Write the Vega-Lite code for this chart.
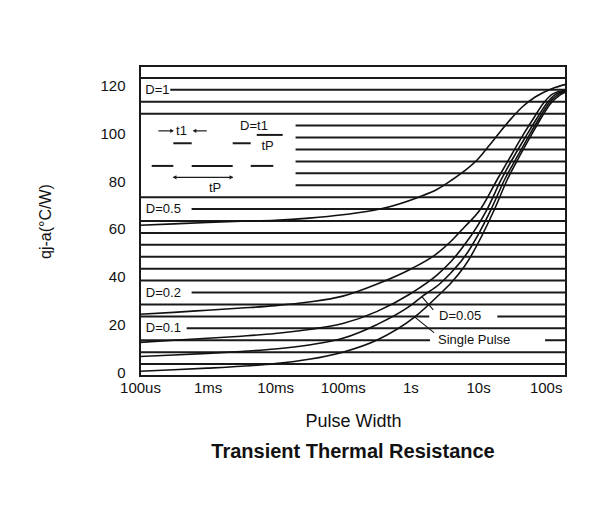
{
  "$schema": "https://vega.github.io/schema/vega-lite/v6.json",
  "width": 426,
  "height": 310,
  "padding": {"left": 37, "top": 66, "right": 5, "bottom": 5},
  "background": "white",
  "title": {"text": "Transient Thermal Resistance", "orient": "bottom", "anchor": "middle", "fontSize": 20, "fontWeight": "bold", "offset": 12, "color": "#111"},
  "config": {"font": "Liberation Sans", "view": {"stroke": "#1a1a1a", "strokeWidth": 2}},
  "encoding": {
    "x": {
      "field": "x", "type": "quantitative",
      "scale": {"type": "log", "domain": [0.0001, 200], "nice": false},
      "axis": {
        "title": "Pulse Width",
        "values": [0.0001, 0.001, 0.01, 0.1, 1, 10, 100],
        "labelExpr": "datum.value < 0.0005 ? '100us' : datum.value < 0.005 ? '1ms' : datum.value < 0.05 ? '10ms' : datum.value < 0.5 ? '100ms' : datum.value < 5 ? '1s' : datum.value < 50 ? '10s' : '100s'",
        "labelFontSize": 15, "labelColor": "#111", "labelFlush": false, "labelOverlap": false, "labelBound": false,
        "labelPadding": 4, "ticks": false, "tickSize": 0, "domain": false, "grid": false,
        "titleFontSize": 18, "titleFontWeight": "normal", "titleColor": "#111", "titlePadding": 17
      }
    },
    "y": {
      "field": "y", "type": "quantitative",
      "scale": {"domain": [0, 130], "nice": false, "zero": false},
      "axis": {
        "title": "qj-a(°C/W)",
        "values": [0, 20, 40, 60, 80, 100, 120],
        "labelFontSize": 15, "labelColor": "#111", "labelPadding": 15, "labelOffset": -4,
        "ticks": false, "tickSize": 0, "domain": false, "grid": false,
        "titleFontSize": 16, "titleFontWeight": "normal", "titleColor": "#111", "titlePadding": 46
      }
    }
  },
  "layer": [
    {
      "data": {"values": [
        {"x": 0.0001, "x2": 200, "y": 5},
        {"x": 0.0001, "x2": 200, "y": 10},
        {"x": 0.0001, "x2": 1.95, "y": 15},
        {"x": 98, "x2": 200, "y": 15},
        {"x": 0.00049, "x2": 200, "y": 20},
        {"x": 0.0001, "x2": 1.9, "y": 25},
        {"x": 19.3, "x2": 200, "y": 25},
        {"x": 0.0001, "x2": 200, "y": 30},
        {"x": 0.00058, "x2": 200, "y": 35},
        {"x": 0.0001, "x2": 200, "y": 40},
        {"x": 0.0001, "x2": 200, "y": 45},
        {"x": 0.0001, "x2": 200, "y": 50},
        {"x": 0.0001, "x2": 200, "y": 55},
        {"x": 0.0001, "x2": 200, "y": 60},
        {"x": 0.0001, "x2": 200, "y": 65},
        {"x": 0.00058, "x2": 200, "y": 70},
        {"x": 0.0001, "x2": 200, "y": 75},
        {"x": 0.02, "x2": 200, "y": 80},
        {"x": 0.02, "x2": 200, "y": 85},
        {"x": 0.02, "x2": 200, "y": 90},
        {"x": 0.02, "x2": 200, "y": 95},
        {"x": 0.02, "x2": 200, "y": 100},
        {"x": 0.02, "x2": 200, "y": 105},
        {"x": 0.0001, "x2": 200, "y": 110},
        {"x": 0.0001, "x2": 200, "y": 115},
        {"x": 0.00028, "x2": 200, "y": 120},
        {"x": 0.0001, "x2": 200, "y": 125}
      ]},
      "mark": {"type": "rule", "stroke": "#1a1a1a", "strokeWidth": 2},
      "encoding": {"x2": {"field": "x2"}}
    },
    {
      "data": {"values": [
        {"x": 0.000311, "x2": 0.000582, "y": 97.6},
        {"x": 0.00235, "x2": 0.00434, "y": 97.6},
        {"x": 0.000149, "x2": 0.000311, "y": 88.1},
        {"x": 0.000582, "x2": 0.00235, "y": 88.1},
        {"x": 0.00434, "x2": 0.00937, "y": 88.1},
        {"x": 0.00533, "x2": 0.0129, "y": 101.1}
      ]},
      "mark": {"type": "rule", "stroke": "#1a1a1a", "strokeWidth": 2},
      "encoding": {"x2": {"field": "x2"}}
    },
    {
      "data": {"values": [
        {"x": 0.000311, "x2": 0.00235, "y": 83.3},
        {"x": 0.000187, "x2": 0.000305, "y": 102.8},
        {"x": 0.000625, "x2": 0.00097, "y": 102.8}
      ]},
      "mark": {"type": "rule", "stroke": "#1a1a1a", "strokeWidth": 1.2},
      "encoding": {"x2": {"field": "x2"}}
    },
    {
      "data": {"values": [
        {"x": 0.000325, "y": 83.3, "dir": "L"},
        {"x": 0.00225, "y": 83.3, "dir": "R"},
        {"x": 0.000298, "y": 102.8, "dir": "R"},
        {"x": 0.00064, "y": 102.8, "dir": "L"}
      ]},
      "mark": {"type": "point", "filled": true, "color": "#1a1a1a", "size": 18, "opacity": 1},
      "encoding": {"shape": {"field": "dir", "type": "nominal", "scale": {"domain": ["L", "R"], "range": ["triangle-left", "triangle-right"]}, "legend": null}}
    },
    {
      "data": {"values": [
        {"x": 1.47, "y": 33.3, "x2": 2.18, "y2": 27.7},
        {"x": 1.15, "y": 24.8, "x2": 2.23, "y2": 18.2}
      ]},
      "mark": {"type": "rule", "stroke": "#1a1a1a", "strokeWidth": 1.2},
      "encoding": {"x2": {"field": "x2"}, "y2": {"field": "y2"}}
    },
    {
      "data": {"values": [
        {"series": "D=0.5", "x": 0.0001, "y": 63.2},
        {"series": "D=0.5", "x": 0.000316, "y": 63.8},
        {"series": "D=0.5", "x": 0.001, "y": 64.4},
        {"series": "D=0.5", "x": 0.00316, "y": 64.9},
        {"series": "D=0.5", "x": 0.01, "y": 65.3},
        {"series": "D=0.5", "x": 0.0316, "y": 66.2},
        {"series": "D=0.5", "x": 0.1, "y": 67.6},
        {"series": "D=0.5", "x": 0.355, "y": 70},
        {"series": "D=0.5", "x": 1.318, "y": 75},
        {"series": "D=0.5", "x": 2.5, "y": 78.3},
        {"series": "D=0.5", "x": 4, "y": 82},
        {"series": "D=0.5", "x": 6.3, "y": 86},
        {"series": "D=0.5", "x": 10, "y": 91},
        {"series": "D=0.5", "x": 14, "y": 96},
        {"series": "D=0.5", "x": 20.42, "y": 101.8},
        {"series": "D=0.5", "x": 30, "y": 107.5},
        {"series": "D=0.5", "x": 45, "y": 112.8},
        {"series": "D=0.5", "x": 70, "y": 117},
        {"series": "D=0.5", "x": 125.9, "y": 120.6},
        {"series": "D=0.5", "x": 200, "y": 122.3},
        {"series": "D=0.2", "x": 0.0001, "y": 25.9},
        {"series": "D=0.2", "x": 0.000316, "y": 26.7},
        {"series": "D=0.2", "x": 0.001, "y": 27.6},
        {"series": "D=0.2", "x": 0.00316, "y": 28.5},
        {"series": "D=0.2", "x": 0.01, "y": 29.5},
        {"series": "D=0.2", "x": 0.0316, "y": 31.0},
        {"series": "D=0.2", "x": 0.1, "y": 33.5},
        {"series": "D=0.2", "x": 0.316, "y": 38.5},
        {"series": "D=0.2", "x": 1, "y": 44.8},
        {"series": "D=0.2", "x": 2.512, "y": 51.5},
        {"series": "D=0.2", "x": 3.981, "y": 56.5},
        {"series": "D=0.2", "x": 6.31, "y": 62.5},
        {"series": "D=0.2", "x": 10.72, "y": 69.7},
        {"series": "D=0.2", "x": 19.05, "y": 82.2},
        {"series": "D=0.2", "x": 31.62, "y": 93},
        {"series": "D=0.2", "x": 45, "y": 100.5},
        {"series": "D=0.2", "x": 66, "y": 108},
        {"series": "D=0.2", "x": 93.33, "y": 114.5},
        {"series": "D=0.2", "x": 125.9, "y": 118.2},
        {"series": "D=0.2", "x": 200, "y": 119.8},
        {"series": "D=0.1", "x": 0.0001, "y": 14.1},
        {"series": "D=0.1", "x": 0.000316, "y": 15.0},
        {"series": "D=0.1", "x": 0.001, "y": 15.8},
        {"series": "D=0.1", "x": 0.00316, "y": 16.7},
        {"series": "D=0.1", "x": 0.01, "y": 17.8},
        {"series": "D=0.1", "x": 0.0316, "y": 19.5},
        {"series": "D=0.1", "x": 0.1, "y": 22},
        {"series": "D=0.1", "x": 0.316, "y": 27},
        {"series": "D=0.1", "x": 1, "y": 34.5},
        {"series": "D=0.1", "x": 2.512, "y": 42.5},
        {"series": "D=0.1", "x": 3.981, "y": 48},
        {"series": "D=0.1", "x": 6.31, "y": 55},
        {"series": "D=0.1", "x": 13.49, "y": 69.7},
        {"series": "D=0.1", "x": 21.88, "y": 82.2},
        {"series": "D=0.1", "x": 35.48, "y": 93},
        {"series": "D=0.1", "x": 51, "y": 100.5},
        {"series": "D=0.1", "x": 74, "y": 108},
        {"series": "D=0.1", "x": 104.7, "y": 114.5},
        {"series": "D=0.1", "x": 138, "y": 118},
        {"series": "D=0.1", "x": 200, "y": 119.6},
        {"series": "D=0.05", "x": 0.0001, "y": 8.2},
        {"series": "D=0.05", "x": 0.000316, "y": 8.8},
        {"series": "D=0.05", "x": 0.001, "y": 9.5},
        {"series": "D=0.05", "x": 0.00316, "y": 10.3},
        {"series": "D=0.05", "x": 0.01, "y": 11.3},
        {"series": "D=0.05", "x": 0.0316, "y": 13},
        {"series": "D=0.05", "x": 0.1, "y": 15.8},
        {"series": "D=0.05", "x": 0.316, "y": 21.5},
        {"series": "D=0.05", "x": 1, "y": 29.5},
        {"series": "D=0.05", "x": 1.479, "y": 33.3},
        {"series": "D=0.05", "x": 2.754, "y": 38.8},
        {"series": "D=0.05", "x": 3.981, "y": 43.3},
        {"series": "D=0.05", "x": 6.31, "y": 50},
        {"series": "D=0.05", "x": 15.49, "y": 69.7},
        {"series": "D=0.05", "x": 24.55, "y": 82.2},
        {"series": "D=0.05", "x": 39.81, "y": 93},
        {"series": "D=0.05", "x": 56, "y": 100.5},
        {"series": "D=0.05", "x": 80, "y": 108},
        {"series": "D=0.05", "x": 112.2, "y": 114.5},
        {"series": "D=0.05", "x": 147.9, "y": 117.8},
        {"series": "D=0.05", "x": 200, "y": 119.4},
        {"series": "Single", "x": 0.0001, "y": 2.0},
        {"series": "Single", "x": 0.000316, "y": 2.6},
        {"series": "Single", "x": 0.001, "y": 3.3},
        {"series": "Single", "x": 0.00316, "y": 4.1},
        {"series": "Single", "x": 0.01, "y": 5.2},
        {"series": "Single", "x": 0.0316, "y": 7},
        {"series": "Single", "x": 0.1, "y": 10},
        {"series": "Single", "x": 0.316, "y": 15},
        {"series": "Single", "x": 1.175, "y": 24.9},
        {"series": "Single", "x": 2.754, "y": 34.5},
        {"series": "Single", "x": 3.981, "y": 39},
        {"series": "Single", "x": 6.31, "y": 46},
        {"series": "Single", "x": 17.38, "y": 69.7},
        {"series": "Single", "x": 26.92, "y": 82.2},
        {"series": "Single", "x": 42.66, "y": 93},
        {"series": "Single", "x": 60, "y": 100.5},
        {"series": "Single", "x": 85, "y": 108},
        {"series": "Single", "x": 120.2, "y": 114.5},
        {"series": "Single", "x": 158.5, "y": 117.6},
        {"series": "Single", "x": 200, "y": 119.2}
      ]},
      "mark": {"type": "line", "stroke": "#111", "strokeWidth": 1.6, "interpolate": "monotone"},
      "encoding": {"detail": {"field": "series", "type": "nominal"}}
    },
    {
      "data": {"values": [
        {"x": 0.00012, "y": 120, "label": "D=1"},
        {"x": 0.000122, "y": 70, "label": "D=0.5"},
        {"x": 0.000122, "y": 35, "label": "D=0.2"},
        {"x": 0.000122, "y": 20, "label": "D=0.1"},
        {"x": 2.65, "y": 25, "label": "D=0.05"},
        {"x": 2.56, "y": 15, "label": "Single Pulse"}
      ]},
      "mark": {"type": "text", "align": "left", "baseline": "middle", "fontSize": 13, "color": "#111"},
      "encoding": {"text": {"field": "label"}}
    },
    {
      "data": {"values": [
        {"x": 0.000411, "y": 102.8, "label": "t1"},
        {"x": 0.00486, "y": 105, "label": "D=t1"},
        {"x": 0.0077, "y": 96.5, "label": "tP"},
        {"x": 0.00129, "y": 79, "label": "tP"}
      ]},
      "mark": {"type": "text", "align": "center", "baseline": "middle", "fontSize": 13, "color": "#111"},
      "encoding": {"text": {"field": "label"}}
    }
  ]
}
